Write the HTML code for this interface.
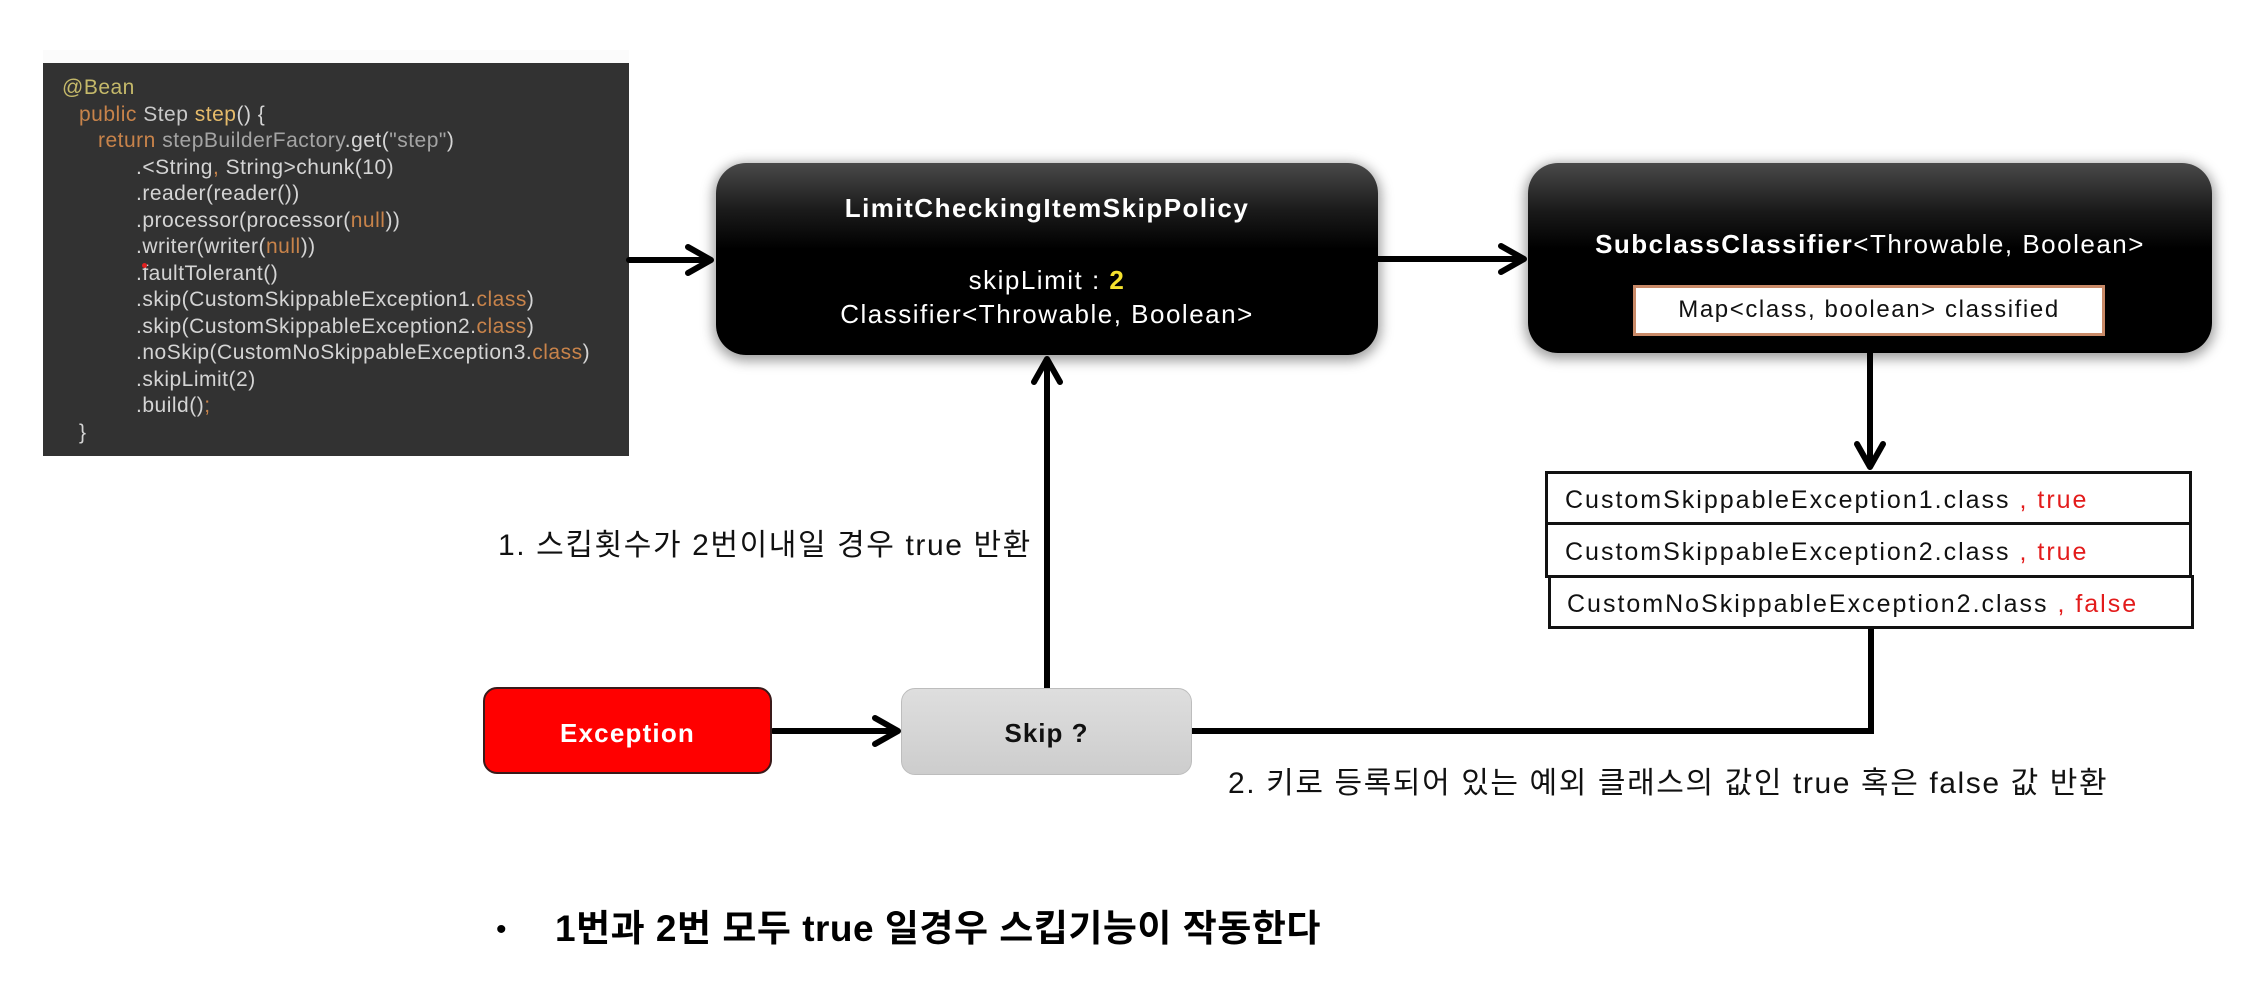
<!DOCTYPE html>
<html>
<head>
<meta charset="utf-8">
<style>
  html,body{margin:0;padding:0;}
  body{width:2258px;height:988px;background:#fff;position:relative;overflow:hidden;
       font-family:"Liberation Sans","Noto Sans CJK KR",sans-serif;}
  .a{position:absolute;white-space:pre;}
  .code{position:absolute;left:43px;top:63px;width:586px;height:393px;background:#323232;}
  .cl{position:absolute;font-family:"Liberation Sans",sans-serif;font-size:21px;letter-spacing:0.5px;
      line-height:26.5px;height:26.5px;color:#d4d4d4;white-space:pre;}
  .o{color:#c8834a;}
  .g{color:#a4a4a4;}
  .box{position:absolute;border-radius:30px;
       background:linear-gradient(to bottom,#4a4a4a 0%,#1a1a1a 25%,#000 45%,#000 100%);
       box-shadow:0 3px 12px 3px rgba(0,0,0,0.38);}
  .w{color:#fff;text-align:center;font-size:26px;letter-spacing:1.5px;height:36px;line-height:36px;}
  .row{position:absolute;background:#fff;border:3px solid #111;box-sizing:border-box;}
  .rt{font-size:25px;letter-spacing:2px;color:#111;height:36px;line-height:36px;}
  .red{color:#e31b1b;}
  .lbl{font-size:30px;letter-spacing:1.6px;color:#111;height:40px;line-height:40px;}
</style>
</head>
<body>

<!-- faint band above code box -->
<div class="a" style="left:43px;top:50px;width:586px;height:13px;background:#fbfbfb;"></div>

<!-- code box -->
<div class="code"></div>
<div class="cl" style="left:62px;top:75px;color:#c5b96a;">@Bean</div>
<div class="cl" style="left:79px;top:101.5px;"><span class="o">public</span> <span style="color:#c8c8c8">Step</span> <span style="color:#e6bb6a">step</span>() {</div>
<div class="cl" style="left:98px;top:128px;"><span class="o">return</span> <span class="g">stepBuilderFactory</span>.get(<span class="g">"step"</span>)</div>
<div class="cl" style="left:136px;top:154.5px;">.&lt;String<span class="o">,</span> String&gt;chunk(10)</div>
<div class="cl" style="left:136px;top:181px;">.reader(reader())</div>
<div class="cl" style="left:136px;top:207.5px;">.processor(processor(<span class="o">null</span>))</div>
<div class="cl" style="left:136px;top:234px;">.writer(writer(<span class="o">null</span>))</div>
<div class="cl" style="left:136px;top:260.5px;">.faultTolerant()</div>
<div class="cl" style="left:136px;top:287px;">.skip(CustomSkippableException1.<span class="o">class</span>)</div>
<div class="cl" style="left:136px;top:313.5px;">.skip(CustomSkippableException2.<span class="o">class</span>)</div>
<div class="cl" style="left:136px;top:340px;">.noSkip(CustomNoSkippableException3.<span class="o">class</span>)</div>
<div class="cl" style="left:136px;top:366.5px;">.skipLimit(2)</div>
<div class="cl" style="left:136px;top:393px;">.build()<span class="o">;</span></div>
<div class="cl" style="left:79px;top:419.5px;">}</div>
<div class="a" style="left:142px;top:263px;width:5px;height:5px;border-radius:50%;background:#e02020;"></div>

<!-- connectors -->
<svg class="a" style="left:0;top:0;" width="2258" height="988" viewBox="0 0 2258 988">
  <g stroke="#000" stroke-width="6" fill="none" stroke-linecap="round" stroke-linejoin="round">
    <path d="M629 260 L710 260"/>
    <path d="M688 247 L711 260 L688 273"/>
    <path d="M1378 259 L1523 259"/>
    <path d="M1501 246 L1524 259 L1501 272"/>
    <path d="M1870 353 L1870 466"/>
    <path d="M1857 444 L1870 467 L1883 444"/>
    <path d="M773 731 L897 731"/>
    <path d="M875 718 L898 731 L875 744"/>
    <path d="M1047 688 L1047 360"/>
    <path d="M1034 382 L1047 359 L1060 382"/>
  </g>
  <path d="M1191 731 L1871 731 L1871 628" stroke="#000" stroke-width="6" fill="none" stroke-linejoin="miter"/>
</svg>

<!-- LimitCheckingItemSkipPolicy -->
<div class="box" style="left:716px;top:163px;width:662px;height:192px;"></div>
<div class="a w" style="left:716px;width:662px;top:190px;font-weight:bold;">LimitCheckingItemSkipPolicy</div>
<div class="a w" style="left:716px;width:662px;top:262px;">skipLimit : <b style="color:#f5e22e">2</b></div>
<div class="a w" style="left:716px;width:662px;top:296px;">Classifier&lt;Throwable, Boolean&gt;</div>

<!-- SubclassClassifier -->
<div class="box" style="left:1528px;top:163px;width:684px;height:190px;"></div>
<div class="a w" style="left:1528px;width:684px;top:226px;"><b>SubclassClassifier</b>&lt;Throwable, Boolean&gt;</div>
<div class="a" style="left:1633px;top:285px;width:472px;height:51px;background:#fff;border:3px solid #c98a68;box-sizing:border-box;"></div>
<div class="a" style="left:1633px;width:472px;top:292px;height:36px;line-height:36px;text-align:center;font-size:24px;letter-spacing:1.6px;color:#111;">Map&lt;class, boolean&gt; classified</div>

<!-- table -->
<div class="row" style="left:1545px;top:471px;width:647px;height:54px;"></div>
<div class="row" style="left:1545px;top:522px;width:647px;height:56px;"></div>
<div class="row" style="left:1548px;top:575px;width:646px;height:54px;"></div>
<div class="a rt" style="left:1565px;top:482px;">CustomSkippableException1.class <span class="red">, true</span></div>
<div class="a rt" style="left:1565px;top:534px;">CustomSkippableException2.class <span class="red">, true</span></div>
<div class="a rt" style="left:1567px;top:586px;">CustomNoSkippableException2.class <span class="red">, false</span></div>

<!-- Exception -->
<div class="a" style="left:483px;top:687px;width:289px;height:87px;background:#ff0000;border:2px solid #3a1a1a;border-radius:14px;box-sizing:border-box;"></div>
<div class="a" style="left:483px;width:289px;top:715px;height:36px;line-height:36px;text-align:center;color:#fff;font-weight:bold;font-size:26px;letter-spacing:1.2px;">Exception</div>

<!-- Skip -->
<div class="a" style="left:901px;top:688px;width:291px;height:87px;background:linear-gradient(to bottom,#dedede,#cdcdcd);border:1px solid #bdbdbd;border-radius:14px;box-sizing:border-box;"></div>
<div class="a" style="left:901px;width:291px;top:715px;height:36px;line-height:36px;text-align:center;color:#111;font-weight:bold;font-size:26px;letter-spacing:1px;">Skip ?</div>

<!-- labels -->
<div class="a lbl" style="left:498px;top:526px;">1. 스킵횟수가 2번이내일 경우 true 반환</div>
<div class="a lbl" style="left:1228px;top:764px;">2. 키로 등록되어 있는 예외 클래스의 값인 true 혹은 false 값 반환</div>

<!-- bottom bullet -->
<div class="a" style="left:496px;top:910px;height:40px;line-height:40px;font-size:30px;color:#000;">•</div>
<div class="a" style="left:555px;top:906px;height:46px;line-height:46px;font-size:37px;font-weight:bold;letter-spacing:0.5px;color:#000;">1번과 2번 모두 true 일경우 스킵기능이 작동한다</div>

</body>
</html>
